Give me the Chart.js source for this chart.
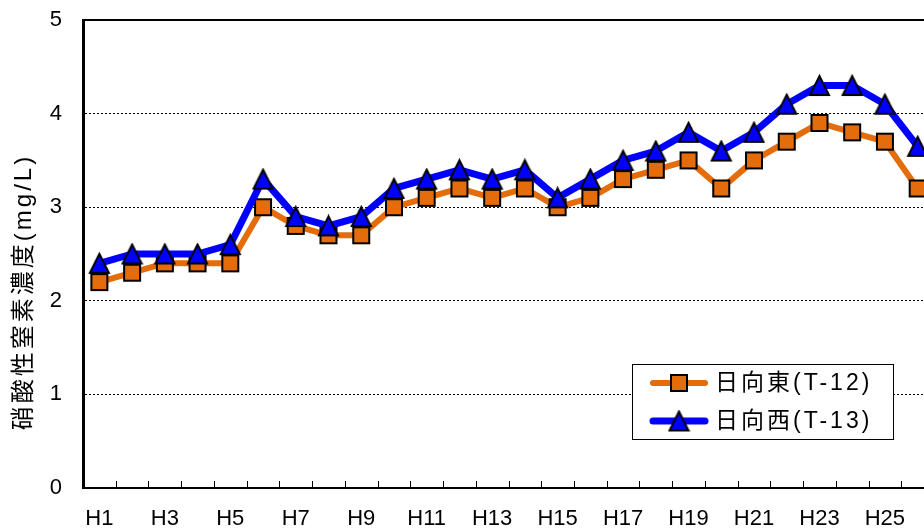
<!DOCTYPE html>
<html>
<head>
<meta charset="utf-8">
<script src="https://cdn.jsdelivr.net/npm/chart.js@4/dist/chart.umd.min.js"></script>
<style>
  html, body { margin: 0; padding: 0; background: #fff; overflow: hidden; }
  #wrap { width: 951px; height: 531px; }
</style>
</head>
<body>
<div id="wrap"><canvas id="myChart" width="951" height="531"></canvas></div>
<script>
const years = ['H1', 'H2', 'H3', 'H4', 'H5', 'H6', 'H7', 'H8', 'H9', 'H10', 'H11', 'H12', 'H13',
    'H14', 'H15', 'H16', 'H17', 'H18', 'H19', 'H20', 'H21', 'H22', 'H23', 'H24', 'H25', 'H26'];
const higashi = [2.2, 2.3, 2.4, 2.4, 2.4, 3.0, 2.8, 2.7, 2.7, 3.0, 3.1, 3.2, 3.1,
    3.2, 3.0, 3.1, 3.3, 3.4, 3.5, 3.2, 3.5, 3.7, 3.9, 3.8, 3.7, 3.2];
const nishi = [2.4, 2.5, 2.5, 2.5, 2.6, 3.3, 2.9, 2.8, 2.9, 3.2, 3.3, 3.4, 3.3,
    3.4, 3.1, 3.3, 3.5, 3.6, 3.8, 3.6, 3.8, 4.1, 4.3, 4.3, 4.1, 3.65];
const seriesNames = ['日向東(T-12)', '日向西(T-13)'];
const yTitle = '硝酸性窒素濃度(mg/L)';

const ORANGE = '#E46C0A';
const BLUE = '#0000FF';
const FONT = '"Liberation Sans", "Noto Sans CJK JP", sans-serif';

// Excel-like markers: square and isosceles triangle, black outline
function makeMarker(kind, color, size) {
    const c = document.createElement('canvas');
    c.width = size + 4;
    c.height = size + 4;
    const g = c.getContext('2d');
    g.fillStyle = color;
    g.strokeStyle = '#000';
    g.lineWidth = 2;
    g.beginPath();
    if (kind === 'square') {
        g.rect(2, 2, size, size);
    } else {
        g.moveTo(2 + size / 2, 2);
        g.lineTo(2 + size, 2 + size);
        g.lineTo(2, 2 + size);
        g.closePath();
    }
    g.fill();
    g.stroke();
    return c;
}
const squareMark = makeMarker('square', ORANGE, 16);
const triMark = makeMarker('triangle', BLUE, 19);

// frame top line, inner tick marks, y title and legend box
const extras = {
    id: 'extras',
    beforeDatasetsDraw(chart) {
        const { ctx, chartArea: a, scales: { x } } = chart;
        ctx.save();
        ctx.strokeStyle = '#000';
        ctx.lineWidth = 2;
        ctx.beginPath();
        ctx.moveTo(a.left, a.top);
        ctx.lineTo(a.right, a.top);
        ctx.stroke();
        const half = (x.getPixelForValue(1) - x.getPixelForValue(0)) / 2;
        ctx.lineWidth = 1;
        ctx.beginPath();
        for (let i = 1; i <= years.length; i++) {
            const px = Math.round(x.getPixelForValue(i) - half) + 0.5;
            ctx.moveTo(px, a.bottom);
            ctx.lineTo(px, a.bottom - 7);
        }
        ctx.stroke();
        ctx.restore();
    },
    afterDraw(chart) {
        const { ctx } = chart;
        ctx.save();
        // y axis title
        ctx.translate(24, 292);
        ctx.rotate(-Math.PI / 2);
        ctx.font = '24px ' + FONT;
        ctx.letterSpacing = '3px';
        ctx.fillStyle = '#000';
        ctx.textAlign = 'center';
        ctx.textBaseline = 'middle';
        ctx.fillText(yTitle, 0, 0);
        ctx.restore();

        // legend
        ctx.save();
        ctx.fillStyle = '#fff';
        ctx.fillRect(632, 364, 261, 75);
        ctx.strokeStyle = '#000';
        ctx.lineWidth = 1;
        ctx.strokeRect(632.5, 364.5, 261, 75);
        const rows = [
            { color: ORANGE, width: 6, mark: squareMark, y: 383 },
            { color: BLUE, width: 7, mark: triMark, y: 421 }
        ];
        rows.forEach((row, i) => {
            ctx.strokeStyle = row.color;
            ctx.lineWidth = row.width;
            ctx.lineCap = 'round';
            ctx.beginPath();
            ctx.moveTo(653, row.y);
            ctx.lineTo(705, row.y);
            ctx.stroke();
            ctx.drawImage(row.mark, 679 - row.mark.width / 2, row.y - row.mark.height / 2);
            ctx.font = '23px ' + FONT;
            ctx.letterSpacing = '3px';
            ctx.fillStyle = '#000';
            ctx.textAlign = 'left';
            ctx.textBaseline = 'middle';
            ctx.fillText(seriesNames[i], 715, row.y + 1);
        });
        ctx.restore();
    }
};

const ctx = document.getElementById('myChart').getContext('2d');
const myChart = new Chart(ctx, {
    type: 'line',
    data: {
        labels: years,
        datasets: [{
            label: seriesNames[0],
            data: higashi,
            borderColor: ORANGE,
            backgroundColor: ORANGE,
            borderWidth: 6,
            pointStyle: squareMark,
            pointRadius: 10,
            borderJoinStyle: 'round',
            tension: 0,
            order: 2
        }, {
            label: seriesNames[1],
            data: nishi,
            borderColor: BLUE,
            backgroundColor: BLUE,
            borderWidth: 7,
            pointStyle: triMark,
            pointRadius: 10,
            borderJoinStyle: 'round',
            tension: 0,
            order: 1
        }]
    },
    options: {
        responsive: false,
        animation: false,
        events: [],
        layout: { padding: { top: 20, right: 7, left: 0, bottom: 0 } },
        plugins: {
            legend: { display: false },
            tooltip: { enabled: false }
        },
        scales: {
            x: {
                offset: true,
                grid: { display: false },
                border: { display: true, color: '#000', width: 2 },
                ticks: {
                    autoSkip: false,
                    maxRotation: 0,
                    padding: 10,
                    color: '#000',
                    font: { family: FONT, size: 22 },
                    callback: (v, i) => (i % 2 === 0 ? years[i] : '')
                },
                afterFit: (s) => {
                    s.height = 43;
                    s.paddingLeft = 0;
                    s.paddingRight = 0;
                }
            },
            y: {
                min: 0,
                max: 5,
                grid: {
                    drawTicks: false,
                    lineWidth: 1,
                    color: (c) => (c.tick && (c.tick.value === 0 || c.tick.value === 5) ? 'rgba(0,0,0,0)' : '#000')
                },
                border: { display: true, color: '#000', width: 3, dash: [2, 2] },
                ticks: {
                    stepSize: 1,
                    padding: 21,
                    color: '#000',
                    font: { family: FONT, size: 22 }
                },
                afterFit: (s) => {
                    s.width = 83;
                    s.paddingTop = 0;
                    s.paddingBottom = 0;
                }
            }
        }
    },
    plugins: [extras]
});
</script>
</body>
</html>
